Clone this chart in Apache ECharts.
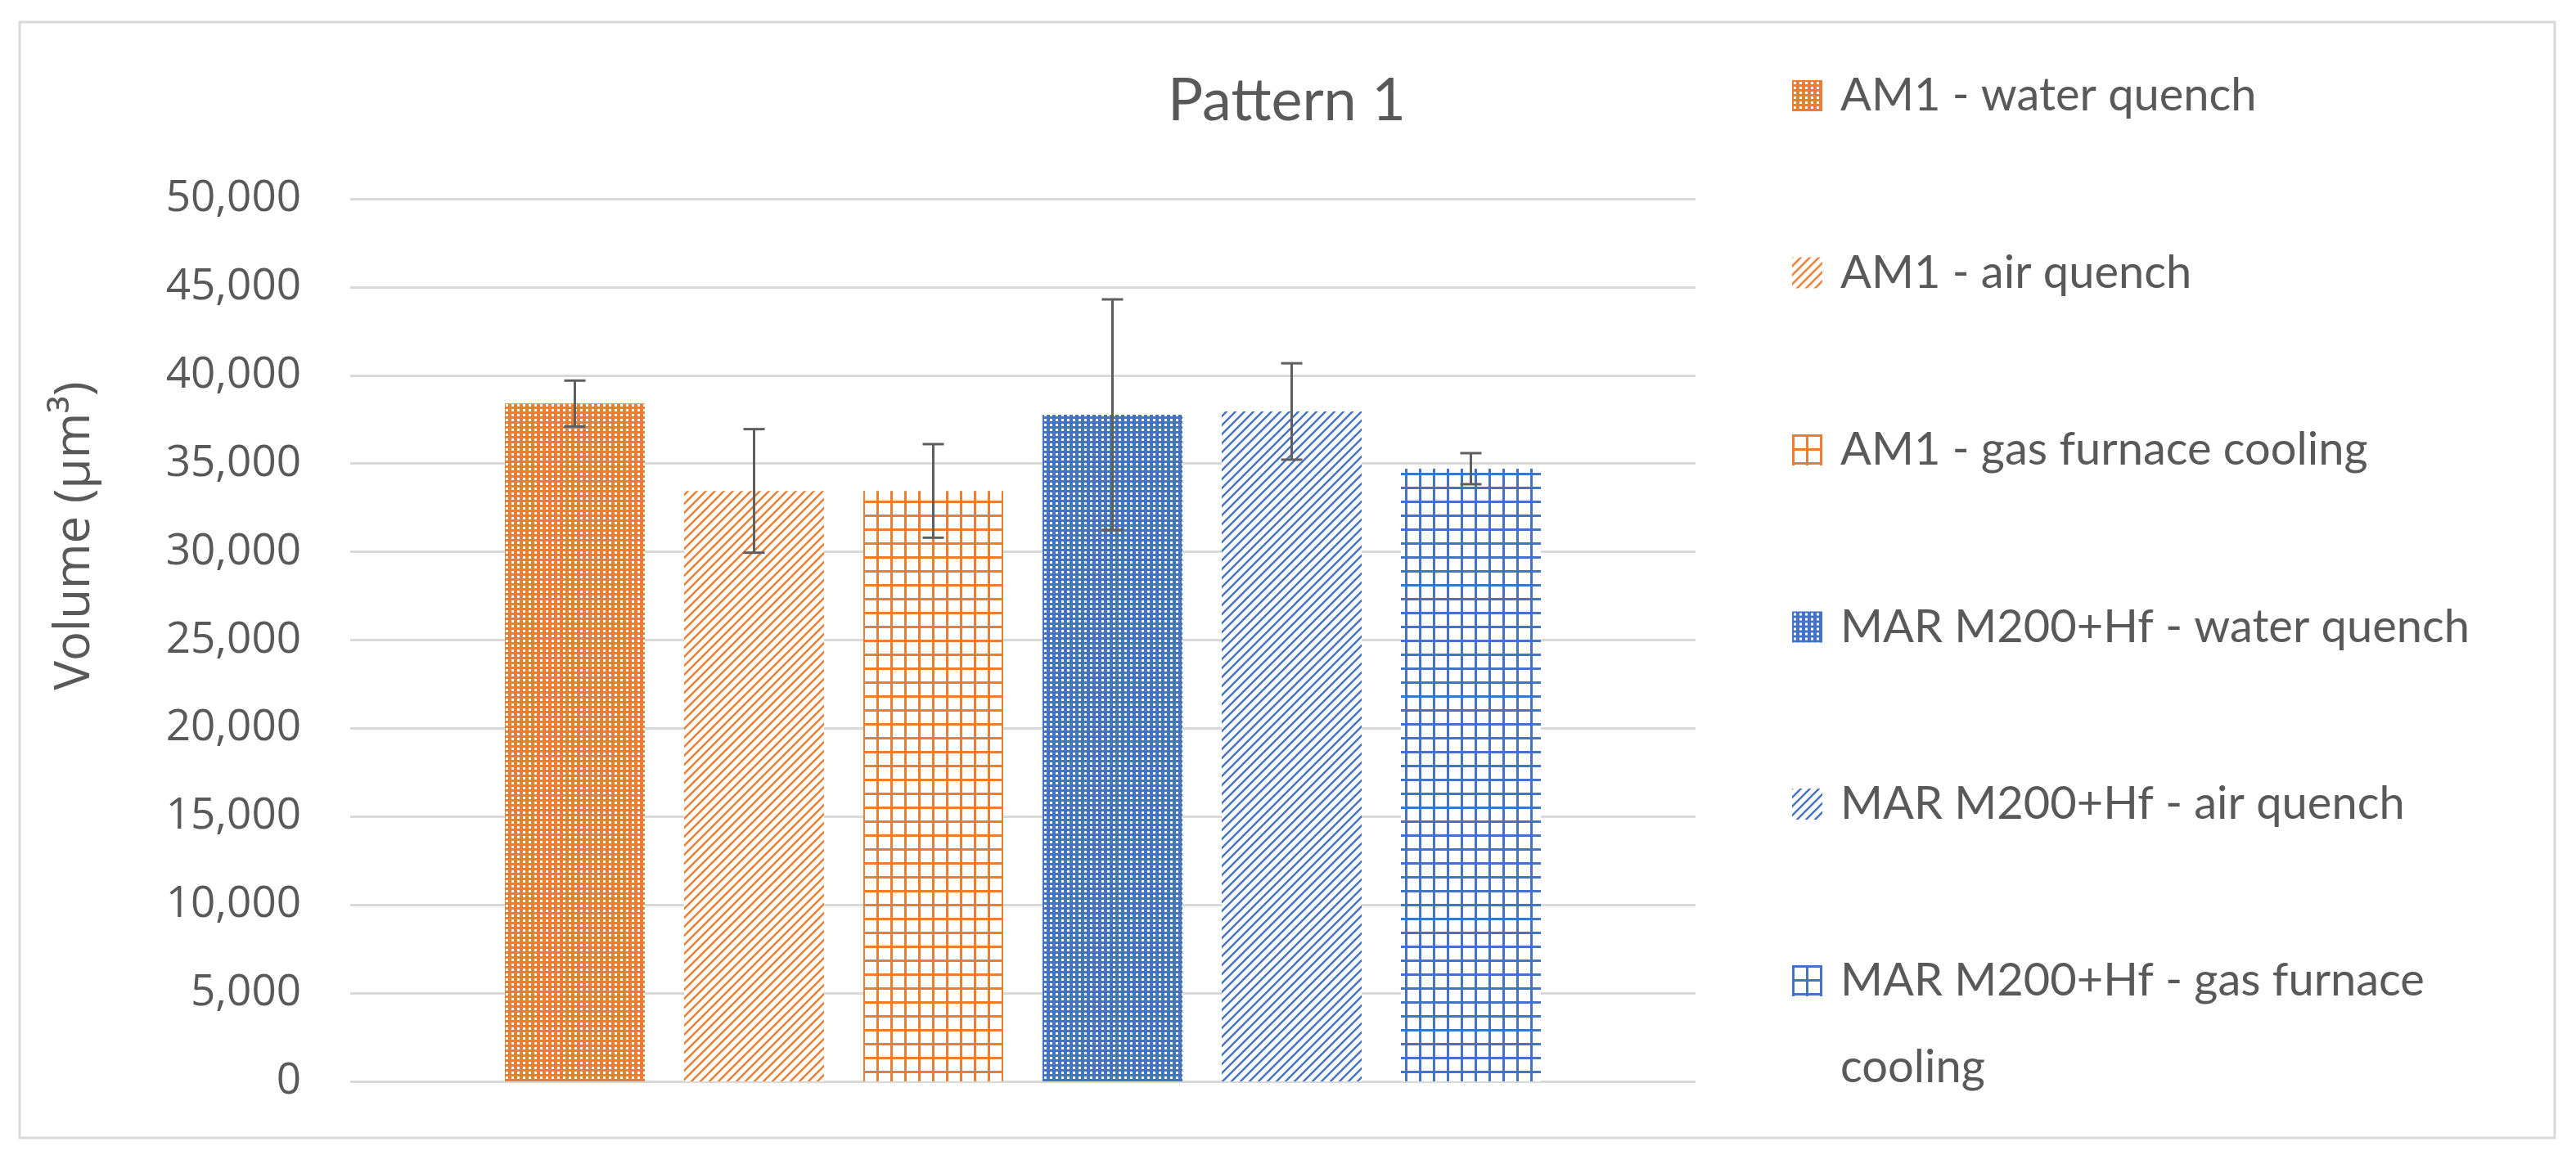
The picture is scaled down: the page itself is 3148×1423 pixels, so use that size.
<!DOCTYPE html>
<html>
<head>
<meta charset="utf-8">
<title>Pattern 1</title>
<script src="https://cdn.jsdelivr.net/npm/echarts@6/dist/echarts.min.js"></script>
<style>
  html, body { margin: 0; padding: 0; background: #fff; }
  #chart { width: 3148px; height: 1423px; }
</style>
</head>
<body>
<div id="chart"></div>
<script>
// data
var seriesNames = [
    'AM1 - water quench',
    'AM1 - air quench',
    'AM1 - gas furnace cooling',
    'MAR M200+Hf - water quench',
    'MAR M200+Hf - air quench',
    'MAR M200+Hf - gas furnace cooling'
];
var volumes = [38400, 33450, 33450, 37770, 37950, 34710];
var errors = [1300, 3500, 2650, 6530, 2730, 880];
var yTicks = [0, 5000, 10000, 15000, 20000, 25000, 30000, 35000, 40000, 45000, 50000];

var ORANGE = '#ED7D31';
var BLUE = '#4472C4';
var TEXT = '#595959';

// small canvas tiles for the hatch fills
function makeTile(kind, color) {
    var c = document.createElement('canvas');
    var ctx = c.getContext('2d');
    if (kind === 'dots') {
        c.width = 7; c.height = 6;
        ctx.fillStyle = color;
        ctx.fillRect(0, 0, 7, 6);
        ctx.fillStyle = '#ffffff';
        ctx.fillRect(2, 2, 3, 3);
    } else if (kind === 'diag') {
        var s = 11;
        c.width = s; c.height = s;
        ctx.fillStyle = '#ffffff';
        ctx.fillRect(0, 0, s, s);
        ctx.strokeStyle = color;
        ctx.lineWidth = 2.4;
        ctx.beginPath();
        ctx.moveTo(0, s); ctx.lineTo(s, 0);
        ctx.moveTo(-2, 2); ctx.lineTo(2, -2);
        ctx.moveTo(s - 2, s + 2); ctx.lineTo(s + 2, s - 2);
        ctx.stroke();
    } else {
        var g = 17;
        c.width = g; c.height = g;
        ctx.fillStyle = '#ffffff';
        ctx.fillRect(0, 0, g, g);
        ctx.fillStyle = color;
        ctx.fillRect(0, 0, g, 3);
        ctx.fillRect(0, 0, 3, g);
    }
    return { image: c, repeat: 'repeat' };
}

var fills = [
    makeTile('dots', ORANGE),
    makeTile('diag', ORANGE),
    makeTile('grid', ORANGE),
    makeTile('dots', BLUE),
    makeTile('diag', BLUE),
    makeTile('grid', BLUE)
];

var chart = echarts.init(document.getElementById('chart'));

var series = seriesNames.map(function(name, i) {
    var data = volumes.map(function(v, j) { return j === i ? v : '-'; });
    return {
        name: name,
        type: 'bar',
        xAxisIndex: 1,
        yAxisIndex: 1,
        stack: 'all',
        barWidth: 171,
        itemStyle: { color: fills[i] },
        data: data
    };
});

// error bars
series.push({
    type: 'custom',
    xAxisIndex: 1,
    yAxisIndex: 1,
    z: 10,
    encode: { x: 0, y: 1 },
    data: volumes.map(function(v, i) { return [i, v, errors[i]]; }),
    renderItem: function(params, api) {
        var x = api.value(0), v = api.value(1), e = api.value(2);
        var top = api.coord([x, v + e]);
        var bot = api.coord([x, v - e]);
        var half = 13;
        var st = { stroke: '#5f5f5f', lineWidth: 3 };
        return {
            type: 'group',
            children: [
                { type: 'line', shape: { x1: top[0], y1: top[1], x2: bot[0], y2: bot[1] }, style: st },
                { type: 'line', shape: { x1: top[0] - half, y1: top[1], x2: top[0] + half, y2: top[1] }, style: st },
                { type: 'line', shape: { x1: bot[0] - half, y1: bot[1], x2: bot[0] + half, y2: bot[1] }, style: st }
            ]
        };
    }
});

var legendText = { fontFamily: 'Lato', fontSize: 56, color: TEXT, padding: [0, 0, 0, 17] };

chart.setOption({
    backgroundColor: '#ffffff',
    animation: false,
    title: {
        text: 'Pattern 1',
        left: 1427,
        top: 88,
        padding: 0,
        textStyle: { fontFamily: 'Lato', fontSize: 72, fontWeight: 'normal', color: TEXT }
    },
    legend: [{
        orient: 'vertical',
        left: 2190,
        top: 82,
        padding: 0,
        itemWidth: 37,
        itemHeight: 38,
        itemGap: 146.5,
        icon: 'rect',
        data: seriesNames.slice(0, 5),
        textStyle: echarts.util.extend({ lineHeight: 70 }, legendText)
    }, {
        orient: 'vertical',
        left: 2190,
        top: 1040,
        padding: 0,
        itemWidth: 37,
        itemHeight: 38,
        icon: 'rect',
        data: seriesNames.slice(5),
        // leading empty line keeps the icon level with the first text line
        formatter: function(name) { return '\n' + name.replace(' cooling', '\ncooling'); },
        textStyle: echarts.util.extend({ lineHeight: 106 }, legendText)
    }],
    grid: [
        { left: 428, right: 1076, top: 243, bottom: 101 },
        { left: 593, right: 1241, top: 243, bottom: 101 }
    ],
    xAxis: [{
        gridIndex: 0,
        type: 'category',
        data: [''],
        axisLine: { show: false },
        axisTick: { show: false },
        axisLabel: { show: false }
    }, {
        gridIndex: 1,
        type: 'category',
        data: seriesNames,
        axisLine: { show: false },
        axisTick: { show: false },
        axisLabel: { show: false }
    }],
    yAxis: [{
        gridIndex: 0,
        type: 'value',
        min: yTicks[0],
        max: yTicks[yTicks.length - 1],
        interval: yTicks[1] - yTicks[0],
        axisLine: { show: false },
        axisTick: { show: false },
        splitLine: { lineStyle: { color: '#d9d9d9', width: 3 } },
        axisLabel: {
            margin: 60,
            fontFamily: 'Open Sans',
            fontSize: 53,
            color: TEXT,
            formatter: function(v) { return v.toLocaleString('en-US'); }
        }
    }, {
        gridIndex: 1,
        type: 'value',
        min: yTicks[0],
        max: yTicks[yTicks.length - 1],
        interval: yTicks[1] - yTicks[0],
        show: false,
        splitLine: { show: false }
    }],
    graphic: [{
        type: 'rect',
        shape: { x: 24, y: 27, width: 3098, height: 1364 },
        style: { fill: 'none', stroke: '#d9d9d9', lineWidth: 3 },
        silent: true
    }, {
        type: 'text',
        x: 92,
        y: 655,
        rotation: Math.PI / 2,
        style: {
            text: 'Volume (μm³)',
            fontFamily: 'Open Sans',
            fontSize: 60,
            fill: TEXT,
            align: 'center',
            verticalAlign: 'middle'
        }
    }],
    series: series
});
</script>
</body>
</html>
